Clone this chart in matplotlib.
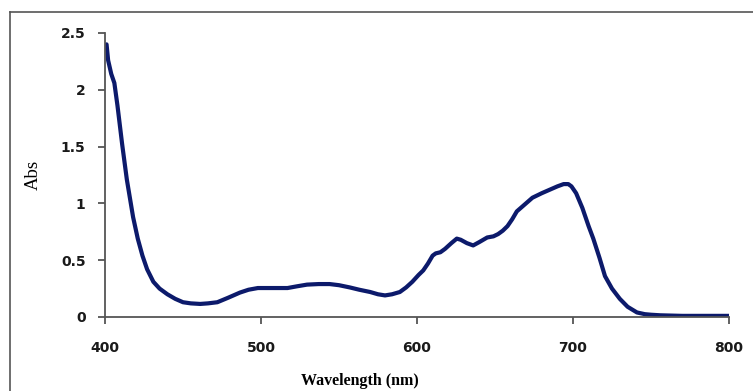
import numpy as np
import matplotlib
matplotlib.use("Agg")
import matplotlib.pyplot as plt
from matplotlib.lines import Line2D

# absorption spectrum
wavelength = [401, 402, 404, 406, 408, 411, 414, 418, 421, 424, 427, 431, 435, 440, 445,
              450, 455, 461, 466, 472, 479, 486.5, 492, 498, 508, 517, 523, 529.5, 537,
              544, 550, 557, 563, 570, 575, 579.5, 584, 589, 593, 597, 601, 604, 607, 610,
              612, 615, 618, 622, 625.5, 628, 632, 636, 640, 645, 649, 652, 655, 658,
              661, 664, 669, 674, 680, 685, 690, 694, 697, 699, 702, 706, 710, 713,
              717, 720.5, 725, 730, 735, 741, 746, 750, 756, 770, 800]
absorbance = [2.40, 2.26, 2.14, 2.06, 1.86, 1.52, 1.21, 0.88, 0.69, 0.54, 0.42, 0.31, 0.25,
              0.20, 0.16, 0.13, 0.12, 0.115, 0.12, 0.13, 0.17, 0.215, 0.24, 0.255, 0.255,
              0.255, 0.27, 0.285, 0.29, 0.29, 0.28, 0.26, 0.24, 0.22, 0.20, 0.19, 0.20,
              0.22, 0.26, 0.31, 0.37, 0.41, 0.47, 0.54, 0.56, 0.57, 0.60, 0.65, 0.69, 0.68,
              0.65, 0.63, 0.66, 0.70, 0.71, 0.73, 0.76, 0.80, 0.86, 0.93, 0.99, 1.05, 1.09,
              1.12, 1.15, 1.17, 1.17, 1.15, 1.09, 0.96, 0.80, 0.69, 0.52, 0.36, 0.25, 0.16,
              0.09, 0.04, 0.025, 0.02, 0.015, 0.01, 0.01]

xticks = [400, 500, 600, 700, 800]
yticks = [0, 0.5, 1, 1.5, 2, 2.5]
ytick_labels = ['0', '0.5', '1', '1.5', '2', '2.5']

fig = plt.figure(figsize=(7.53, 3.91), dpi=100)
ax = fig.add_axes([105/753, 1-317/391, 624/753, 284/391])

ax.plot(wavelength, absorbance, color='#0c1a6b', lw=3.0,
        solid_capstyle='round', solid_joinstyle='round')

ax.set_xlim(400, 800)
ax.set_ylim(0, 2.5)
ax.set_xticks(xticks)
ax.set_yticks(yticks)
ax.set_yticklabels(ytick_labels)

for s in ['top', 'right']:
    ax.spines[s].set_visible(False)
for s in ['left', 'bottom']:
    ax.spines[s].set_color('#555555')
    ax.spines[s].set_linewidth(1.3)

ax.tick_params(axis='both', direction='out', length=5, width=1.3, color='#555555',
               labelsize=10)
ax.tick_params(axis='x', pad=12)
ax.tick_params(axis='y', pad=9)
for lbl in ax.get_xticklabels() + ax.get_yticklabels():
    lbl.set_fontweight('bold')
    lbl.set_color('#1a1a1a')

ax.set_xlabel('Wavelength (nm)', family='Liberation Serif', fontweight='bold', fontsize=11.5)
ax.xaxis.set_label_coords((360-105)/624, -(373-317)/284)
ax.set_ylabel('Abs', family='Liberation Serif', fontsize=13.5)
ax.yaxis.set_label_coords(-(105-42)/624, 0.5)

# frame round the picture (top and left edges only are visible)
fig.add_artist(Line2D([10/753, 1], [1-12/391, 1-12/391], color='#555555', lw=1.2))
fig.add_artist(Line2D([10/753, 10/753], [0, 1-12/391], color='#555555', lw=1.2))

fig.savefig('out.png', dpi=100)
